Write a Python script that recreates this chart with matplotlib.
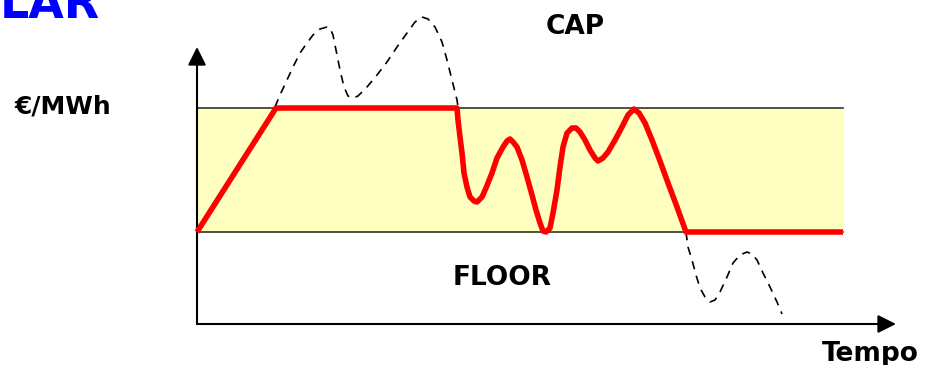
import numpy as np
import matplotlib.pyplot as plt

# tempo (asse x) e prezzo (asse y), origine degli assi in (0, 0)
FLOOR = 92
CAP = 216
t_end_band = 646

# prezzo effettivo (linea rossa, dentro la banda)
t_red = [0, 79, 260, 261, 263, 265, 267, 270, 273, 277, 280, 285, 289, 295, 300,
         306, 310, 313, 316, 320, 325, 330, 335, 339, 343, 346, 349, 353, 356, 360,
         363, 366, 370, 375, 379, 383, 388, 393, 398, 401, 406, 411, 418, 425, 431,
         437, 442, 448, 455, 463, 471, 480, 489, 646]
p_red = [92, 216, 216, 204, 187, 171, 151, 137, 127, 123, 122, 127, 136, 151, 166,
         177, 183, 185, 182, 177, 164, 147, 129, 114, 101, 93, 92, 96, 111, 134,
         157, 177, 191, 196, 196, 192, 184, 174, 166, 163, 166, 172, 184, 197, 209,
         215, 211, 201, 184, 163, 141, 117, 92, 92]

# prezzo di mercato sopra il cap (tratteggiato)
t_up = [78, 83, 90, 96, 103, 110, 116, 123, 130, 133, 136, 139, 143, 147, 151, 156,
        161, 170, 180, 190, 200, 210, 218, 225, 231, 238, 245, 250, 255, 260, 261]
p_up = [217, 229, 244, 257, 271, 281, 289, 295, 297, 296, 289, 274, 254, 237, 228, 226,
        228, 237, 249, 262, 277, 291, 302, 307, 305, 297, 282, 264, 244, 224, 217]

# prezzo di mercato sotto il floor (tratteggiato)
t_down = [489, 491, 495, 499, 503, 508, 513, 518, 523, 530, 536, 543, 550, 555, 560,
          566, 573, 580, 585]
p_down = [92, 77, 64, 49, 36, 27, 22, 24, 32, 47, 61, 69, 72, 70, 64,
          51, 37, 22, 10]

fig = plt.figure(figsize=(9.25, 3.65), dpi=100)
ax = fig.add_axes([0, 0, 1, 1])
ax.set_xlim(-197, 728)
ax.set_ylim(-41, 324)
ax.axis('off')

# banda gialla tra floor e cap
ax.fill_between([0, t_end_band], FLOOR, CAP, color='#ffffc0', zorder=1)
ax.plot([0, t_end_band], [CAP, CAP], color='#222222', lw=1.1, zorder=2)
ax.plot([0, t_end_band], [FLOOR, FLOOR], color='#222222', lw=1.1, zorder=2)

# assi con frecce
arrow = dict(arrowstyle='-|>,head_length=1.0,head_width=0.5', lw=1.5, color='black',
             mutation_scale=11, shrinkA=0, shrinkB=0)
ax.annotate('', xy=(0, 277), xytext=(0, 0), arrowprops=arrow, zorder=3)
ax.annotate('', xy=(699, 0), xytext=(0, 0), arrowprops=arrow, zorder=3)

ax.plot(t_up, p_up, color='black', lw=1.2, ls=(0, (5, 4)), zorder=3)
ax.plot(t_down, p_down, color='black', lw=1.2, ls=(0, (5, 4)), zorder=3)
ax.plot(t_red, p_red, color='#ff0000', lw=4.0, solid_joinstyle='round',
        solid_capstyle='butt', zorder=4)

font = dict(family='DejaVu Sans', fontweight='bold')
ax.text(-197, 306, 'LAR', color='#0000ff', fontsize=33, va='baseline', ha='left', **font)
ax.text(-182, 217, '€/MWh', color='black', fontsize=18, va='center', ha='left', **font)
ax.text(378, 297, 'CAP', color='black', fontsize=19, va='center', ha='center', **font)
ax.text(305, 46, 'FLOOR', color='black', fontsize=19, va='center', ha='center', **font)
ax.text(625, -37, 'Tempo', color='black', fontsize=19, va='baseline', ha='left', **font)

plt.savefig('out.png', dpi=100)
